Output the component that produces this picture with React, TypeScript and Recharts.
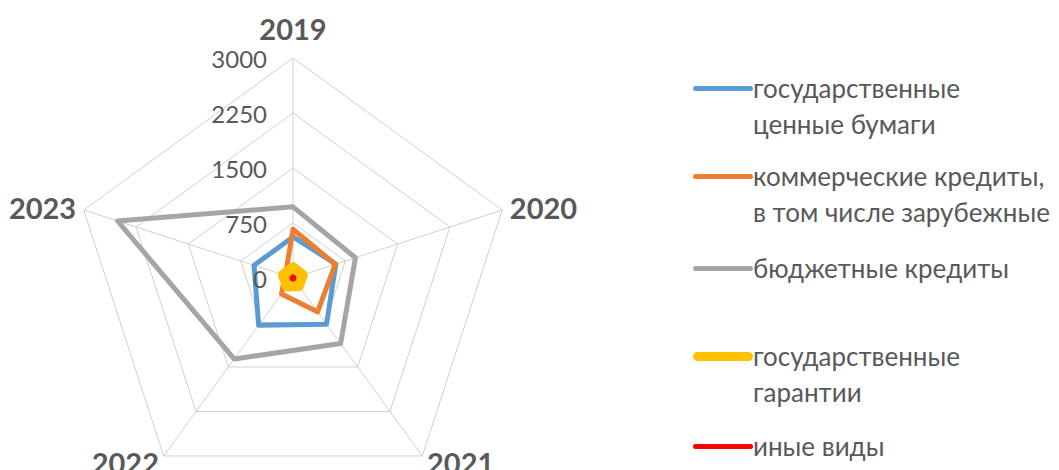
import { PolarAngleAxis, PolarGrid, PolarRadiusAxis, Radar, RadarChart } from "recharts";

const years = ["2019", "2020", "2021", "2022", "2023"];
const govSecurities = [560, 614, 778, 797, 559];
const commercialCredits = [665, 605, 570, 268, 110];
const budgetCredits = [970, 895, 1105, 1365, 2515];
const govGuarantees = [130, 125, 120, 125, 130];
const otherTypes = [15, 15, 15, 15, 15];
const radiusTicks = [0, 750, 1500, 2250, 3000];

const seriesNames = [
  "государственные ценные бумаги",
  "коммерческие кредиты, в том числе зарубежные",
  "бюджетные кредиты",
  "государственные гарантии",
  "иные виды",
];
const legendLines = [
  ["государственные", "ценные бумаги"],
  ["коммерческие кредиты,", "в том числе зарубежные"],
  ["бюджетные кредиты"],
  ["государственные", "гарантии"],
  ["иные виды"],
];

const colors = ["#5b9bd5", "#ed7d31", "#a5a5a5", "#ffc000", "#ff0000"];
const widths = [5, 5, 5, 12, 5];
const legendWidths = [5, 5, 5, 9, 5];

const data = years.map((year, i) => ({
  year,
  gov: govSecurities[i],
  com: commercialCredits[i],
  bud: budgetCredits[i],
  gar: govGuarantees[i],
  oth: otherTypes[i],
}));
const keys = ["gov", "com", "bud", "gar", "oth"];

const FONT = "Lato, 'Open Sans', sans-serif";
const TEXT = "#595959";

function AngleTick(props: any) {
  const { x, y, payload, textAnchor } = props;
  const dy = textAnchor === "middle" && y < 278 ? -22 : 0;
  return (
    <text
      x={x}
      y={y + dy}
      textAnchor={textAnchor}
      dominantBaseline="central"
      fontFamily={FONT}
      fontWeight="bold"
      fontSize={29}
      fill={TEXT}
    >
      {payload.value}
    </text>
  );
}

function RadiusTick(props: any) {
  const { x, y, payload } = props;
  return (
    <text
      x={x - 26}
      y={y}
      textAnchor="end"
      dominantBaseline="central"
      fontFamily={FONT}
      fontSize={24}
      fill={TEXT}
    >
      {payload.value}
    </text>
  );
}

// legend positions: y centre of first text line for each entry
const legendTops = [88, 176, 268, 356, 446];

function LegendBox() {
  return (
    <div style={{ position: "absolute", left: 0, top: 0, fontFamily: FONT }}>
      {legendLines.map((lines, i) => (
        <div key={seriesNames[i]}>
          <div
            style={{
              position: "absolute",
              left: 693,
              top: legendTops[i] - legendWidths[i] / 2,
              width: 60,
              height: legendWidths[i],
              borderRadius: legendWidths[i],
              background: colors[i],
            }}
          />
          {lines.map((line, j) => (
            <div
              key={line}
              style={{
                position: "absolute",
                left: 753,
                top: legendTops[i] + j * 36 - 18,
                height: 36,
                lineHeight: "36px",
                fontSize: 26,
                color: TEXT,
                whiteSpace: "nowrap",
              }}
            >
              {line}
            </div>
          ))}
        </div>
      ))}
    </div>
  );
}

export default function App() {
  return (
    <div
      style={{
        position: "absolute",
        left: 0,
        top: 0,
        width: 1059,
        height: 470,
        background: "#fff",
        overflow: "hidden",
      }}
    >
      <RadarChart
        width={1059}
        height={470}
        data={data}
        cx={293}
        cy={278}
        outerRadius={220}
        margin={{ top: 0, right: 0, bottom: 0, left: 0 }}
      >
        <PolarGrid gridType="polygon" stroke="#d0d0d0" strokeWidth={1} />
        <PolarAngleAxis
          dataKey="year"
          tick={<AngleTick />}
          tickLine={false}
          axisLine={false}
        />
        <PolarRadiusAxis
          angle={90}
          domain={[0, 3000]}
          ticks={radiusTicks}
          tick={<RadiusTick />}
          axisLine={false}
          tickLine={false}
        />
        {keys.map((k, i) => (
          <Radar
            key={k}
            name={seriesNames[i]}
            dataKey={k}
            stroke={colors[i]}
            strokeWidth={widths[i]}
            strokeLinejoin="round"
            fill="none"
            fillOpacity={0}
            dot={false}
            isAnimationActive={false}
          />
        ))}
      </RadarChart>
      <LegendBox />
    </div>
  );
}
